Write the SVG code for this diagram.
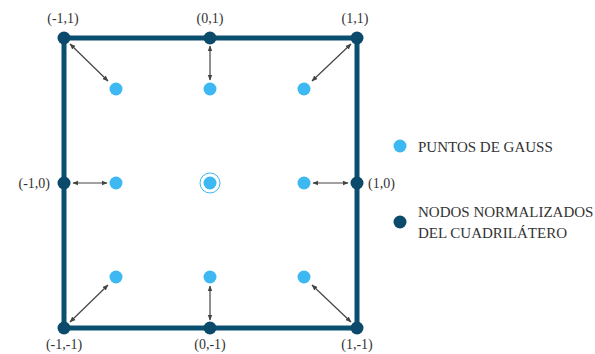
<svg xmlns="http://www.w3.org/2000/svg" width="595" height="354" viewBox="0 0 595 354">
<defs>
<style>
.lbl{font-family:"Liberation Serif","DejaVu Serif",serif;font-size:14px;fill:#333}
.leg{font-family:"Liberation Serif","DejaVu Serif",serif;font-size:15px;fill:#333}
.node{fill:#0b4a6b}
.gauss{fill:#3db8f3}
.arr{stroke:#444;stroke-width:1.2;fill:none;marker-start:url(#ah);marker-end:url(#ah)}
</style>
<marker id="ah" viewBox="0 0 10 10" refX="9" refY="5" markerWidth="6" markerHeight="6" orient="auto-start-reverse" markerUnits="userSpaceOnUse">
<path d="M0,1 L10,5 L0,9 z" fill="#444"/>
</marker>
</defs>
<rect width="595" height="354" fill="#fff"/>
<g id="square">
<rect x="64" y="38" width="293" height="290" fill="none" stroke="#0b4f70" stroke-width="5"/>
</g>
<g id="connectors">
<line class="arr" x1="70" y1="44" x2="108" y2="81"/>
<line class="arr" x1="210" y1="46" x2="210" y2="80"/>
<line class="arr" x1="351" y1="44" x2="312" y2="81"/>
<line class="arr" x1="73" y1="183" x2="107" y2="183"/>
<line class="arr" x1="348" y1="183" x2="313" y2="183"/>
<line class="arr" x1="70" y1="322" x2="108" y2="285"/>
<line class="arr" x1="210" y1="320" x2="210" y2="286"/>
<line class="arr" x1="351" y1="322" x2="312" y2="285"/>
</g>
<g id="n-m1-1"><circle class="node" cx="64" cy="38" r="6.5"/><text class="lbl" x="63" y="23" text-anchor="middle">(-1,1)</text></g>
<g id="n-0-1"><circle class="node" cx="210" cy="38" r="6.5"/><text class="lbl" x="210" y="23" text-anchor="middle">(0,1)</text></g>
<g id="n-1-1"><circle class="node" cx="357" cy="38" r="6.5"/><text class="lbl" x="355" y="23" text-anchor="middle">(1,1)</text></g>
<g id="n-m1-0"><circle class="node" cx="64" cy="183" r="6.5"/><text class="lbl" x="50" y="188" text-anchor="end">(-1,0)</text></g>
<g id="n-1-0"><circle class="node" cx="357" cy="183" r="6.5"/><text class="lbl" x="368" y="188">(1,0)</text></g>
<g id="n-m1-m1"><circle class="node" cx="64" cy="328" r="6.5"/><text class="lbl" x="64" y="349" text-anchor="middle">(-1,-1)</text></g>
<g id="n-0-m1"><circle class="node" cx="210" cy="328" r="6.5"/><text class="lbl" x="210" y="349" text-anchor="middle">(0,-1)</text></g>
<g id="n-1-m1"><circle class="node" cx="357" cy="328" r="6.5"/><text class="lbl" x="357" y="349" text-anchor="middle">(1,-1)</text></g>
<g id="gauss-points">
<circle class="gauss" cx="116" cy="89" r="6.5"/>
<circle class="gauss" cx="210" cy="89" r="6.5"/>
<circle class="gauss" cx="304" cy="89" r="6.5"/>
<circle class="gauss" cx="116" cy="183" r="6.5"/>
<circle class="gauss" cx="210" cy="183" r="6.5"/>
<circle cx="210" cy="183" r="10" fill="none" stroke="#3db8f3" stroke-width="1"/>
<circle class="gauss" cx="304" cy="183" r="6.5"/>
<circle class="gauss" cx="116" cy="277" r="6.5"/>
<circle class="gauss" cx="210" cy="277" r="6.5"/>
<circle class="gauss" cx="304" cy="277" r="6.5"/>
</g>
<g id="legend-gauss"><circle class="gauss" cx="400" cy="146" r="6.5"/><text class="leg" x="418" y="152">PUNTOS DE GAUSS</text></g>
<g id="legend-nodes"><circle class="node" cx="400" cy="222" r="6.5"/><text class="leg" x="418" y="217">NODOS NORMALIZADOS</text><text class="leg" x="418" y="238">DEL CUADRILÁTERO</text></g>
</svg>
